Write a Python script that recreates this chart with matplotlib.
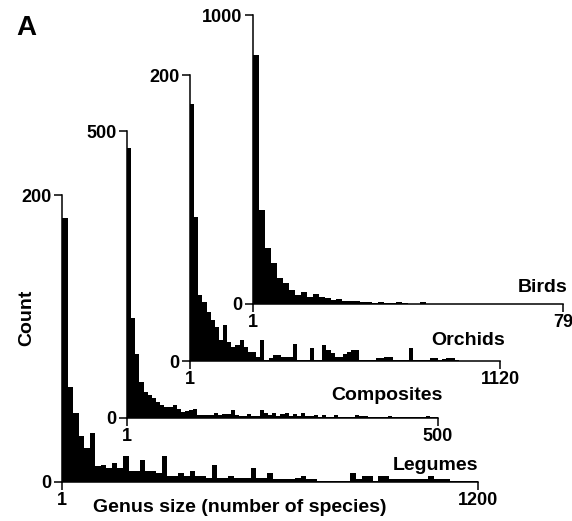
import numpy as np
import matplotlib.pyplot as plt

plt.rcParams["font.family"] = ["Liberation Sans", "DejaVu Sans"]
plt.rcParams["font.weight"] = "bold"

# counts per genus-size bin
legumes = [184, 66, 48, 32, 24, 34, 11, 12, 10, 13, 10, 18, 8, 8, 15, 8, 8, 6, 18, 4,
           4, 6, 4, 8, 4, 4, 3, 12, 3, 3, 4, 3, 3, 3, 10, 3, 3, 6, 2, 2,
           2, 2, 3, 4, 2, 2, 1, 1, 1, 1, 1, 1, 6, 2, 4, 4, 1, 4, 4, 2,
           2, 2, 2, 2, 2, 2, 4, 2, 2, 2, 1, 1, 1, 1, 1]
composites = [471, 175, 112, 62, 46, 40, 34, 28, 23, 20, 20, 23, 15, 11, 13, 14, 15, 5, 5, 5,
              5, 8, 5, 7, 7, 14, 5, 3, 3, 7, 3, 3, 14, 8, 5, 8, 3, 7, 9, 3,
              7, 3, 8, 3, 3, 5, 2, 5, 2, 2, 5, 1, 1, 1, 1, 5, 4, 4, 1, 1,
              1, 1, 1, 4, 1, 1, 1, 1, 1, 1, 1, 1, 4, 1, 1]
orchids = [180, 101, 46, 41, 34, 29, 24, 15, 25, 13, 10, 11, 15, 10, 6.5, 6, 3, 15, 1, 2,
           4, 4, 3, 3, 3, 12, 1, 1, 1, 9, 1, 1, 11, 8, 5.5, 3, 3, 5, 6, 8,
           8, 1, 1, 1, 1, 2, 2, 3, 3, 1, 1, 1, 1, 9, 1, 0.5, 0.5, 0.5, 2, 2,
           1, 1.5, 2, 2, 1, 0, 0, 0, 0, 0, 0, 0, 0, 0, 0]
birds = [862, 325, 193, 141, 89, 72, 48, 31, 43, 25, 33, 25, 20, 14, 17, 11, 10, 10, 8, 6,
         5, 6, 5, 2, 6, 4, 1, 1, 6, 0, 0, 0, 0, 0, 0, 0, 0, 0, 0, 0,
         0, 0, 0, 0, 0, 0, 0, 0, 0, 0, 0, 0]

names = ["Legumes", "Composites", "Orchids", "Birds"]
x_max = [1200, 500, 1120, 79]
y_max = [200, 500, 200, 1000]
series = [legumes, composites, orchids, birds]

# axes boxes in pixels: left, top, right, bottom (image coords)
boxes = [(62, 195, 478, 482), (127, 131, 438, 418), (190, 75, 500, 361), (253, 15, 563, 304)]
# name label offsets (axes fraction)
label_pos = [(1.0, 0.059), (1.016, 0.077), (1.016, 0.073), (1.013, 0.056)]

W, H = 572, 521
fig = plt.figure(figsize=(W / 100, H / 100), dpi=100)

for i in range(4):
    l, t, r, b = boxes[i]
    ax = fig.add_axes([l / W, (H - b) / H, (r - l) / W, (b - t) / H])
    ax.patch.set_alpha(0)
    counts = np.array(series[i], dtype=float)
    edges = np.linspace(1, x_max[i], len(counts) + 1)
    ax.bar(edges[:-1], counts, width=np.diff(edges), align="edge", color="black", linewidth=0)
    ax.set_xlim(1, x_max[i])
    ax.set_ylim(0, y_max[i])
    ax.set_xticks([1, x_max[i]])
    ax.set_yticks([0, y_max[i]])
    ax.spines["top"].set_visible(False)
    ax.spines["right"].set_visible(False)
    for s in ["left", "bottom"]:
        ax.spines[s].set_linewidth(1.1)
    ax.tick_params(direction="out", length=5.5, width=1.1, pad=2, labelsize=13)
    ax.text(label_pos[i][0], label_pos[i][1], names[i], transform=ax.transAxes,
            ha="right", va="center", fontsize=14, fontweight="bold")

fig.text(27 / W, 1 - 318 / H, "Count", rotation=90, ha="center", va="center",
         fontsize=14, fontweight="bold")
fig.text(240 / W, 1 - 507 / H, "Genus size (number of species)", ha="center", va="center",
         fontsize=14, fontweight="bold")
fig.text(16 / W, 1 - 35 / H, "A", ha="left", va="baseline", fontsize=20, fontweight="bold")

plt.savefig("out.png", dpi=100)
